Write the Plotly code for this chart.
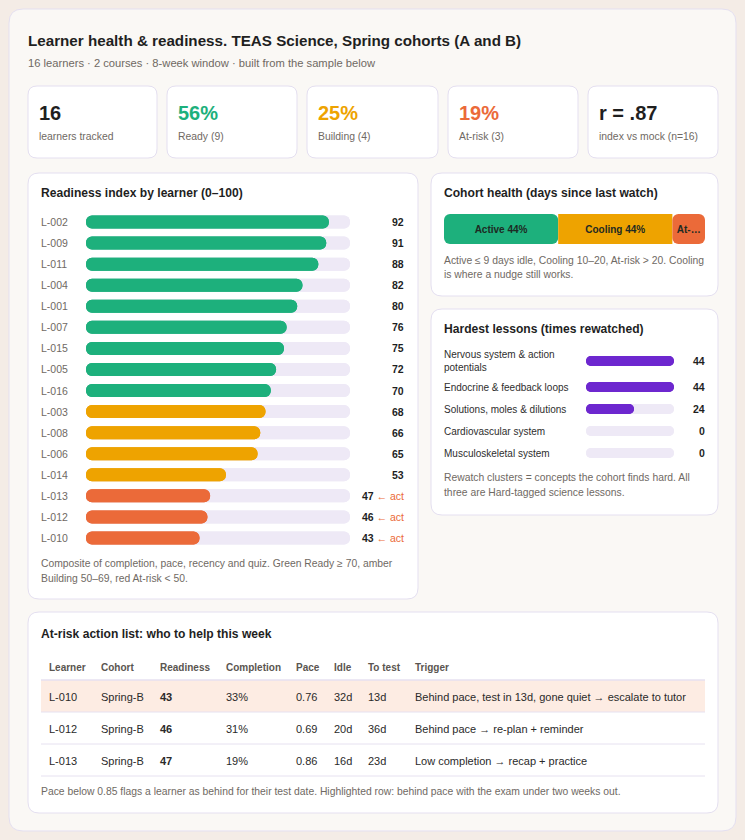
import textwrap
import plotly.graph_objects as go

W, H = 745, 840
FONT = "Liberation Sans, Arial, Helvetica, sans-serif"

# ---------------- data ----------------
title = "Learner health & readiness. TEAS Science, Spring cohorts (A and B)"
subtitle = "16 learners · 2 courses · 8-week window · built from the sample below"

learners = ["L-002", "L-009", "L-011", "L-004", "L-001", "L-007", "L-015", "L-005",
            "L-016", "L-003", "L-008", "L-006", "L-014", "L-013", "L-012", "L-010"]
readiness = [92, 91, 88, 82, 80, 76, 75, 72, 70, 68, 66, 65, 53, 47, 46, 43]
mock_corr = 0.87

health_names = ["Active", "Cooling", "At-risk"]
health_counts = [7, 7, 2]

lessons = ["Nervous system & action potentials", "Endocrine & feedback loops",
           "Solutions, moles & dilutions", "Cardiovascular system", "Musculoskeletal system"]
rewatches = [44, 44, 24, 0, 0]

tbl_learner = ["L-010", "L-012", "L-013"]
tbl_cohort = ["Spring-B", "Spring-B", "Spring-B"]
tbl_readiness = [43, 46, 47]
tbl_completion = [33, 31, 19]
tbl_pace = [0.76, 0.69, 0.86]
tbl_idle = [32, 20, 16]
tbl_to_test = [13, 36, 23]
tbl_trigger = ["Behind pace, test in 13d, gone quiet → escalate to tutor",
               "Behind pace → re-plan + reminder",
               "Low completion → recap + practice"]
tbl_header = ["Learner", "Cohort", "Readiness", "Completion", "Pace", "Idle", "To test", "Trigger"]

# ---------------- style ----------------
GREEN = "#1db07c"
AMBER = "#eea300"
RED = "#eb6a39"
PURPLE = "#6d27cf"
TRACK = "#eee9f6"
INK = "#1f1f1f"
GRAY = "#6f6963"
BORDER = "#e4dff0"
PT = 12.1   # panel title size
FN = 10.35  # footnote size


def X(p):
    return p / W


def Y(p):
    return 1 - p / H


shapes = []
annotations = []


def rrect(x0, y0, x1, y1, r, fill, line=BORDER):
    pts = [
        f"M{X(x0 + r)},{Y(y0)}", f"L{X(x1 - r)},{Y(y0)}", f"Q{X(x1)},{Y(y0)} {X(x1)},{Y(y0 + r)}",
        f"L{X(x1)},{Y(y1 - r)}", f"Q{X(x1)},{Y(y1)} {X(x1 - r)},{Y(y1)}",
        f"L{X(x0 + r)},{Y(y1)}", f"Q{X(x0)},{Y(y1)} {X(x0)},{Y(y1 - r)}",
        f"L{X(x0)},{Y(y0 + r)}", f"Q{X(x0)},{Y(y0)} {X(x0 + r)},{Y(y0)}", "Z",
    ]
    shapes.append(dict(type="path", path=" ".join(pts), xref="paper", yref="paper",
                       fillcolor=fill, line=dict(color=line, width=1), layer="below"))


def txt(x, y, s, size, color=INK):
    annotations.append(dict(
        x=X(x), y=Y(y), xref="paper", yref="paper",
        text=s, showarrow=False, xanchor="left", yanchor="middle", align="left",
        font=dict(family=FONT, size=size, color=color)))


def band(v):
    return GREEN if v >= 70 else (AMBER if v >= 50 else RED)


def pill(y, vals, colors, width, r, xa, ya):
    """Bar with both ends rounded: a forward half (rounded right) + a backward half (rounded left)."""
    common = dict(y=y, orientation="h", width=width, xaxis=xa, yaxis=ya,
                  hoverinfo="skip", showlegend=False)
    return [
        go.Bar(x=list(vals), base=[0] * len(vals),
               marker=dict(color=colors, cornerradius=r, line_width=0), **common),
        go.Bar(x=[-v for v in vals], base=list(vals),
               marker=dict(color=colors, cornerradius=r, line_width=0), **common),
    ]


traces = []

# ---------------- cards ----------------
rrect(9, 9, 736, 831, 14, "#faf8f5")
kpi_x = [(28, 157), (167, 297), (307, 438), (448, 578), (588, 718)]
for (a, b) in kpi_x:
    rrect(a, 86, b, 158, 9, "#ffffff")
rrect(28, 173, 418, 599, 11, "#ffffff")
rrect(431, 173, 718, 296, 11, "#ffffff")
rrect(431, 309, 718, 515, 11, "#ffffff")
rrect(28, 612, 718, 813, 11, "#ffffff")

txt(26, 40, f"<b>{title}</b>", 15.2, INK)
txt(26, 63, subtitle, 11.2, GRAY)

# ---------------- KPIs ----------------
n = len(readiness)
ready = sum(v >= 70 for v in readiness)
building = sum(50 <= v < 70 for v in readiness)
risk = sum(v < 50 for v in readiness)
kpi_values = [str(n), f"{round(100 * ready / n)}%", f"{round(100 * building / n)}%",
              f"{round(100 * risk / n)}%", "r = " + f"{mock_corr:.2f}"[1:]]
kpi_labels = ["learners tracked", f"Ready ({ready})", f"Building ({building})",
              f"At-risk ({risk})", f"index vs mock (n={n})"]
kpi_colors = [INK, GREEN, AMBER, RED, INK]
for (a, b), v, l, c in zip(kpi_x, kpi_values, kpi_labels, kpi_colors):
    txt(a + 9, 113, f"<b>{v}</b>", 20, c)
    txt(a + 9, 137, l, 10.4, GRAY)

# ---------------- readiness ----------------
txt(39, 193, "<b>Readiness index by learner (0–100)</b>", PT, INK)
bcolors = [band(v) for v in readiness]
traces += pill(learners, [100] * n, TRACK, 0.62, 7, "x", "y")
traces += pill(learners, readiness, bcolors, 0.62, 7, "x", "y")
for lab, v in zip(learners, readiness):
    annotations.append(dict(x=X(39), y=lab, xref="paper", yref="y", text=lab, showarrow=False,
                            xanchor="left", yanchor="middle",
                            font=dict(family=FONT, size=10.5, color=GRAY)))
    s = f"<b>{v}</b>"
    if v < 50:
        s += f" <span style='color:{RED}'>← act</span>"
    annotations.append(dict(x=X(406), y=lab, xref="paper", yref="y", text=s, showarrow=False,
                            xanchor="right", yanchor="middle",
                            font=dict(family=FONT, size=10.5, color=INK)))
txt(39, 563, "Composite of completion, pace, recency and quiz. Green Ready ≥ 70, amber", FN, GRAY)
txt(39, 578, "Building 50–69, red At-risk < 50.", FN, GRAY)

# ---------------- cohort health ----------------
txt(442, 193, "<b>Cohort health (days since last watch)</b>", PT, INK)
total = sum(health_counts)
starts = [sum(health_counts[:i]) for i in range(len(health_counts))]
seg_colors = [GREEN, AMBER, RED]
bar_px = 705 - 444
for i, (nm, c, s0, col) in enumerate(zip(health_names, health_counts, starts, seg_colors)):
    label = f"{nm} {round(100 * c / total)}%"
    avail = c / total * bar_px - 8
    if len(label) * 5.6 > avail:
        k = max(1, int(avail / 5.6))
        label = label[:k - 1] + "…"
    if i == 0:
        xv, bv, r = [-c], [s0 + c], 6
    elif i == len(health_counts) - 1:
        xv, bv, r = [c], [s0], 6
    else:
        xv, bv, r = [c], [s0], 0
    traces.append(go.Bar(y=["all"], x=xv, base=bv, orientation="h", width=1,
                         marker=dict(color=col, cornerradius=r, line_width=0),
                         text=[f"<b>{label}</b>"], textposition="inside", insidetextanchor="middle",
                         textfont=dict(family=FONT, size=10, color="#1d2a23"),
                         constraintext="none", xaxis="x2", yaxis="y2", hoverinfo="skip",
                         showlegend=False))
txt(442, 260, "Active ≤ 9 days idle, Cooling 10–20, At-risk > 20. Cooling", FN, GRAY)
txt(442, 275, "is where a nudge still works.", FN, GRAY)

# ---------------- hardest lessons ----------------
txt(442, 329, "<b>Hardest lessons (times rewatched)</b>", PT, INK)
wrapped = [textwrap.wrap(l, 28) for l in lessons]
row_h = [22 + 8 * (len(w) - 1) for w in wrapped]
centers = [sum(row_h[:i]) + row_h[i] / 2 for i in range(len(row_h))]
les_top = 346
les_total = sum(row_h)
vmax = max(rewatches)
traces += pill(centers, [vmax] * len(lessons), TRACK, 10, 5, "x3", "y3")
traces += pill(centers, rewatches, PURPLE, 10, 5, "x3", "y3")
for w, cy, v in zip(wrapped, centers, rewatches):
    annotations.append(dict(x=X(442), y=cy, xref="paper", yref="y3", text="<br>".join(w),
                            showarrow=False, xanchor="left", yanchor="middle", align="left",
                            font=dict(family=FONT, size=10, color="#2e2e2e")))
    annotations.append(dict(x=X(707), y=cy, xref="paper", yref="y3", text=f"<b>{v}</b>",
                            showarrow=False, xanchor="right", yanchor="middle",
                            font=dict(family=FONT, size=10.5, color=INK)))
txt(442, 477, "Rewatch clusters = concepts the cohort finds hard. All", FN, GRAY)
txt(442, 492, "three are Hard-tagged science lessons.", FN, GRAY)

# ---------------- table ----------------
txt(39, 634, "<b>At-risk action list: who to help this week</b>", PT, INK)
tbl_top, head_h, cell_h = 655, 30, 32
TXT_OFF = 11          # plotly places cell text ~11px below the cell top
nrows = len(tbl_learner)
tbl_bottom = tbl_top + head_h + cell_h * nrows
hl = [p < 0.85 and t < 14 for p, t in zip(tbl_pace, tbl_to_test)]
row_center = [tbl_top + head_h + k * cell_h + TXT_OFF for k in range(nrows)]
row_edges = [c - cell_h / 2 for c in row_center] + [row_center[-1] + cell_h / 2]
for k, h in enumerate(hl):
    if h:
        shapes.append(dict(type="rect", xref="paper", yref="paper", x0=X(41), x1=X(705),
                           y0=Y(row_edges[k + 1]), y1=Y(row_edges[k]),
                           fillcolor="#fdece3", line=dict(width=0), layer="below"))
cols_vals = [
    tbl_learner, tbl_cohort, [str(v) for v in tbl_readiness],
    [f"{v}%" for v in tbl_completion], [f"{v:.2f}" for v in tbl_pace],
    [f"{v}d" for v in tbl_idle], [f"{v}d" for v in tbl_to_test], tbl_trigger,
]
weights = [700 if h == "Readiness" else 400 for h in tbl_header]
traces.append(go.Table(
    domain=dict(x=[X(41), X(705)], y=[Y(tbl_bottom), Y(tbl_top)]),
    columnwidth=[52, 59, 66, 70, 38, 34, 47, 298],
    header=dict(values=[h.replace(" ", "\u00a0") for h in tbl_header], align="left", height=head_h,
                fill=dict(color="rgba(0,0,0,0)"), line=dict(color="rgba(0,0,0,0)", width=0),
                font=dict(family=FONT, size=10, color="#5a5550", weight=700)),
    cells=dict(values=cols_vals, align="left", height=cell_h,
               fill=dict(color="rgba(0,0,0,0)"),
               line=dict(color="rgba(0,0,0,0)", width=0),
               font=dict(family=FONT, size=11, color="#2a2a2a", weight=weights)),
))
for k, yy in enumerate(row_edges):
    shapes.append(dict(type="line", xref="paper", yref="paper", x0=X(41), x1=X(705),
                       y0=Y(yy), y1=Y(yy), line=dict(color="#e6e1f0", width=1.5 if k == 0 else 1),
                       layer="above"))
txt(39, 791, "Pace below 0.85 flags a learner as behind for their test date. Highlighted row: behind pace with the exam under two weeks out.", 10.35, GRAY)

# ---------------- figure ----------------
fig = go.Figure(traces)
hid = dict(visible=False, fixedrange=True)
fig.update_layout(
    width=W, height=H, autosize=False, margin=dict(l=0, r=0, t=0, b=0),
    paper_bgcolor="#f4ece6", plot_bgcolor="rgba(0,0,0,0)",
    barmode="overlay", showlegend=False, font=dict(family=FONT),
    xaxis=dict(domain=[X(86), X(350)], range=[0, 100], **hid),
    yaxis=dict(domain=[Y(548.5), Y(211.5)], range=[n - 0.5, -0.5], type="category",
               categoryarray=learners, **hid),
    xaxis2=dict(domain=[X(444), X(705)], range=[0, total], anchor="y2", **hid),
    yaxis2=dict(domain=[Y(244), Y(214)], range=[-0.5, 0.5], type="category", anchor="x2", **hid),
    xaxis3=dict(domain=[X(586), X(674)], range=[0, vmax], anchor="y3", **hid),
    yaxis3=dict(domain=[Y(les_top + les_total), Y(les_top)], range=[les_total, 0], anchor="x3", **hid),
    shapes=shapes, annotations=annotations,
)
fig.write_html("out.html", config={"displayModeBar": False, "staticPlot": True},
               post_script="document.body.style.margin='0';")
